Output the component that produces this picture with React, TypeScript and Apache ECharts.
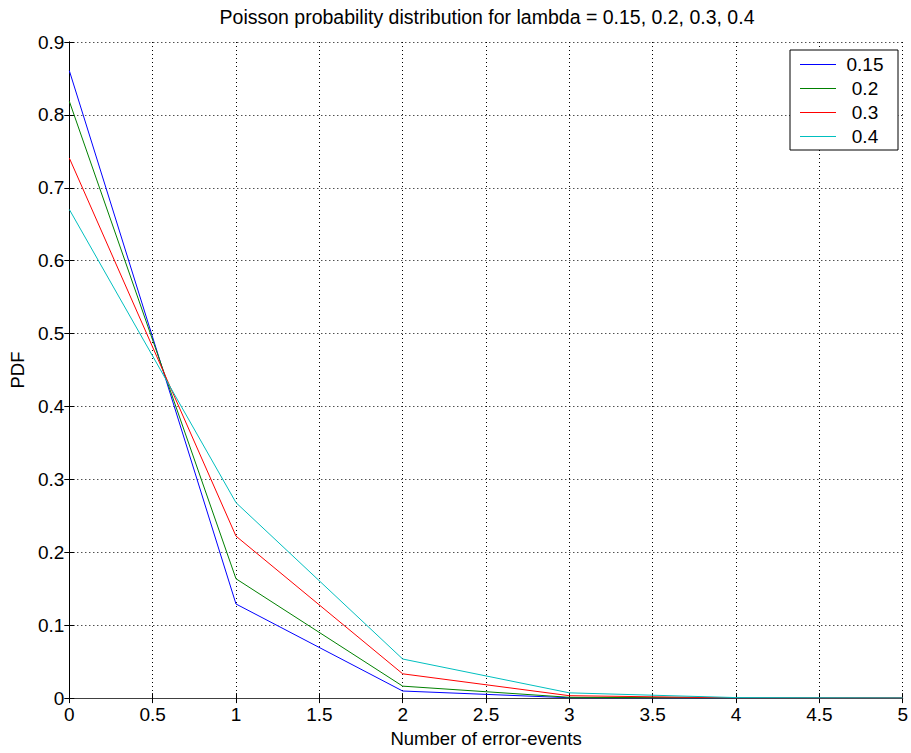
import React, { useEffect, useRef } from "react";
import * as echarts from "echarts";

const xValues = [0, 1, 2, 3, 4, 5];
const seriesNames = ["0.15", "0.2", "0.3", "0.4"];
const pdf015 = [0.8607, 0.1291, 0.0097, 0.0005, 0.0, 0.0];
const pdf02 = [0.8187, 0.1637, 0.0164, 0.0011, 0.0001, 0.0];
const pdf03 = [0.7408, 0.2222, 0.0333, 0.0033, 0.0003, 0.0];
const pdf04 = [0.6703, 0.2681, 0.0536, 0.0072, 0.0007, 0.0001];
const seriesColors = ["#0000ff", "#008000", "#ff0000", "#00bfbf"];

const FONT = "Liberation Sans, Arial, sans-serif";

export default function App() {
  const ref = useRef<HTMLDivElement>(null);
  useEffect(() => {
    if (!ref.current) return;
    const chart = echarts.init(ref.current, null, { renderer: "svg" });
    const allData = [pdf015, pdf02, pdf03, pdf04];
    const tick = { show: true, inside: true, length: 5, lineStyle: { color: "#000" } };
    chart.setOption({
      animation: false,
      backgroundColor: "#fff",
      title: {
        text: "Poisson probability distribution for lambda = 0.15, 0.2, 0.3, 0.4",
        left: 487,
        top: 7,
        padding: 0,
        textAlign: "center",
        textStyle: { fontFamily: FONT, fontSize: 19.5, fontWeight: "normal", color: "#000" },
      },
      grid: { left: 67, right: 4, top: 42, bottom: 50, containLabel: false },
      legend: {
        orient: "vertical",
        left: 790,
        top: 50,
        data: seriesNames,
        icon: "rect",
        itemWidth: 36,
        itemHeight: 1,
        itemGap: 5,
        padding: [5, 9, 4, 10],
        backgroundColor: "#fff",
        borderColor: "#000",
        borderWidth: 1,
        borderRadius: 0,
        formatter: "{a|{name}}",
        textStyle: {
          fontFamily: FONT,
          fontSize: 19,
          color: "#000",
          rich: {
            a: { fontFamily: FONT, fontSize: 19, color: "#000", width: 48, align: "center", lineHeight: 18 },
          },
        },
      },
      xAxis: [
        {
          type: "value",
          min: 0,
          max: 5,
          interval: 0.5,
          name: "Number of error-events",
          nameLocation: "middle",
          nameGap: 30,
          nameTextStyle: { fontFamily: FONT, fontSize: 18.5, color: "#000" },
          axisLabel: { fontFamily: FONT, fontSize: 19, color: "#000", margin: 7 },
          axisLine: { show: true, lineStyle: { color: "#707070", width: 1 } },
          axisTick: tick,
          splitLine: { show: true, lineStyle: { color: "#000", type: [1, 3], width: 1 } },
        },
        {
          type: "value",
          position: "top",
          min: 0,
          max: 5,
          interval: 0.5,
          axisLabel: { show: false },
          axisLine: { show: true, lineStyle: { color: "#404040", width: 1 } },
          axisTick: tick,
          splitLine: { show: false },
        },
      ],
      yAxis: [
        {
          type: "value",
          min: 0,
          max: 0.9,
          interval: 0.1,
          name: "PDF",
          nameLocation: "middle",
          nameGap: 39,
          nameTextStyle: { fontFamily: FONT, fontSize: 18.5, color: "#000" },
          axisLabel: {
            fontFamily: FONT,
            fontSize: 19,
            color: "#000",
            margin: 5,
            formatter: (v: number) => (v === 0 ? "0" : String(Math.round(v * 10) / 10)),
          },
          axisLine: { show: true, lineStyle: { color: "#000", width: 1 } },
          axisTick: tick,
          splitLine: { show: true, lineStyle: { color: "#000", type: [1, 3], width: 1 } },
        },
        {
          type: "value",
          position: "right",
          min: 0,
          max: 0.9,
          interval: 0.1,
          axisLabel: { show: false },
          axisLine: { show: true, lineStyle: { color: "#000", width: 1 } },
          axisTick: tick,
          splitLine: { show: false },
        },
      ],
      series: seriesNames.map((name, i) => ({
        name,
        type: "line",
        data: xValues.map((x, j) => [x, allData[i][j]]),
        symbol: "none",
        showSymbol: false,
        lineStyle: { color: seriesColors[i], width: 1 },
        itemStyle: { color: seriesColors[i] },
        xAxisIndex: 0,
        yAxisIndex: 0,
      })),
    });
    return () => chart.dispose();
  }, []);
  return (
    <div
      ref={ref}
      style={{ position: "fixed", left: 0, top: 0, width: 911, height: 753 }}
    />
  );
}
